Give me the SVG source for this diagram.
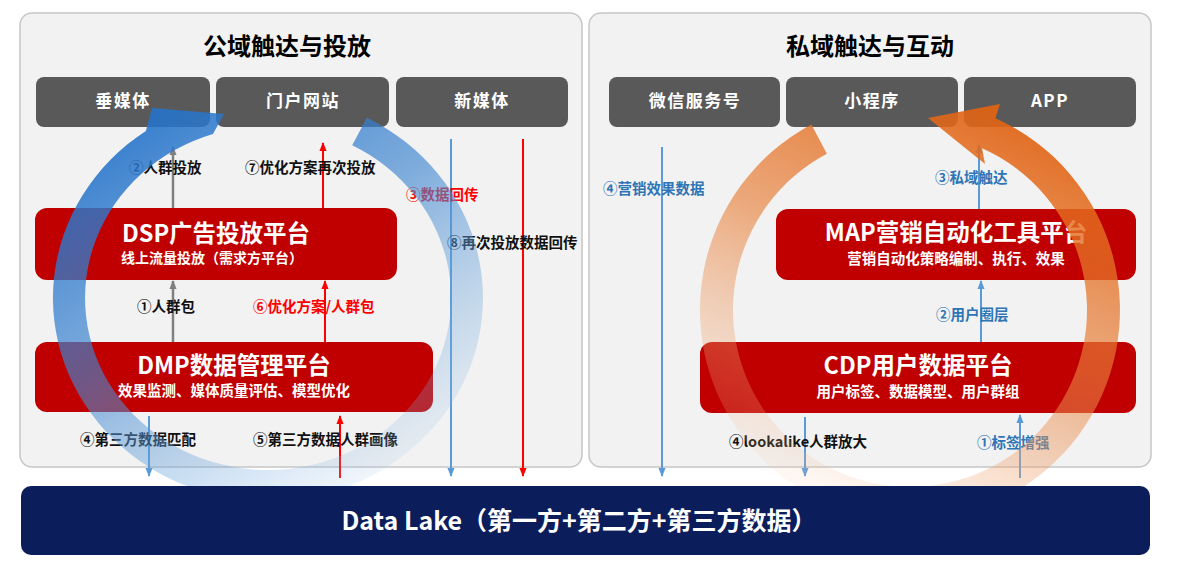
<svg xmlns="http://www.w3.org/2000/svg" width="1180" height="568" viewBox="0 0 1180 568">
<style>
text{font-family:'Noto Sans CJK SC','Noto Sans',sans-serif;font-weight:700}
.panel{fill:#f2f2f2;stroke:#c6c6c6;stroke-width:1.5}
.media rect{fill:#595959}
.media text{fill:#fff;font-size:17px;letter-spacing:1.5px;text-anchor:middle}
.plat rect{fill:#c00000}
.plat .t{fill:#fff;font-size:23.5px;text-anchor:middle}
.plat .s{fill:#fff;font-size:14.5px;text-anchor:middle}
.title{font-size:24px;fill:#000;text-anchor:middle}
.lbl{font-size:14.5px}
.k{fill:#111}
.r{fill:#ff0000}
.b{fill:#2e75b6}
.gray{stroke:#808080;stroke-width:2.5;marker-end:url(#ag)}
.red{stroke:#ff0000;stroke-width:2;marker-end:url(#ar)}
.blue{stroke:#5b9bd5;stroke-width:2;marker-end:url(#ab)}
</style>
<defs>
<marker id="ab" viewBox="0 0 10 10" refX="9" refY="5" markerWidth="9" markerHeight="9" markerUnits="userSpaceOnUse" orient="auto"><path d="M0,1 L10,5 L0,9 z" fill="#5b9bd5"/></marker>
<marker id="ar" viewBox="0 0 10 10" refX="9" refY="5" markerWidth="9" markerHeight="9" markerUnits="userSpaceOnUse" orient="auto"><path d="M0,1 L10,5 L0,9 z" fill="#ff0000"/></marker>
<marker id="ag" viewBox="0 0 10 10" refX="9" refY="5" markerWidth="9" markerHeight="9" markerUnits="userSpaceOnUse" orient="auto"><path d="M0,1 L10,5 L0,9 z" fill="#808080"/></marker>
<linearGradient id="gBlue" gradientUnits="userSpaceOnUse" x1="120" y1="90" x2="380" y2="510">
<stop offset="0" stop-color="#1f6fc9" stop-opacity="0.95"/>
<stop offset="0.45" stop-color="#3f86d0" stop-opacity="0.65"/>
<stop offset="0.8" stop-color="#7aaee0" stop-opacity="0.3"/>
<stop offset="1" stop-color="#a8c8ea" stop-opacity="0.08"/>
</linearGradient>
<linearGradient id="gOrange" gradientUnits="userSpaceOnUse" x1="1010" y1="100" x2="820" y2="510">
<stop offset="0" stop-color="#e0600f" stop-opacity="0.95"/>
<stop offset="0.45" stop-color="#e8803a" stop-opacity="0.65"/>
<stop offset="0.8" stop-color="#f0a878" stop-opacity="0.3"/>
<stop offset="1" stop-color="#f5c8a8" stop-opacity="0.08"/>
</linearGradient>
</defs>
<rect width="1180" height="568" fill="#ffffff"/>

<g id="panel-public">
<rect class="panel" x="20" y="13" width="562" height="454" rx="12"/>
<text class="title" x="287" y="55">公域触达与投放</text>
</g>
<g id="panel-private">
<rect class="panel" x="589" y="13" width="562" height="454" rx="12"/>
<text class="title" x="870" y="55">私域触达与互动</text>
</g>

<g id="node-chuimeiti" class="media"><rect x="36" y="77" width="174" height="50" rx="8"/><text x="123" y="107">垂媒体</text></g>
<g id="node-menhu" class="media"><rect x="216" y="77" width="173" height="50" rx="8"/><text x="303" y="107">门户网站</text></g>
<g id="node-xinmeiti" class="media"><rect x="396" y="77" width="172" height="50" rx="8"/><text x="482" y="107">新媒体</text></g>
<g id="node-weixin" class="media"><rect x="609" y="77" width="171" height="50" rx="8"/><text x="695" y="107">微信服务号</text></g>
<g id="node-xiaochengxu" class="media"><rect x="786" y="77" width="172" height="50" rx="8"/><text x="872" y="107">小程序</text></g>
<g id="node-app" class="media"><rect x="964" y="77" width="172" height="50" rx="8"/><text x="1050" y="107">APP</text></g>

<g id="node-dsp" class="plat"><rect x="35" y="208" width="362" height="72" rx="12"/><text class="t" x="216" y="242">DSP广告投放平台</text><text class="s" x="212" y="263" style="font-size:14px">线上流量投放（需求方平台）</text></g>
<g id="node-dmp" class="plat"><rect x="35" y="342" width="398" height="70" rx="12"/><text class="t" x="234" y="374">DMP数据管理平台</text><text class="s" x="234" y="396">效果监测、媒体质量评估、模型优化</text></g>
<g id="node-map" class="plat"><rect x="776" y="209" width="360" height="71" rx="12"/><text class="t" x="956" y="241">MAP营销自动化工具平台</text><text class="s" x="956" y="264">营销自动化策略编制、执行、效果</text></g>
<g id="node-cdp" class="plat"><rect x="700" y="342" width="436" height="71" rx="12"/><text class="t" x="918" y="374">CDP用户数据平台</text><text class="s" x="918" y="397">用户标签、数据模型、用户群组</text></g>

<g id="connectors">
<line class="gray" x1="173" y1="342" x2="173" y2="281"/>
<line class="gray" x1="173" y1="208" x2="173" y2="147"/>
<line class="red" x1="323" y1="208" x2="323" y2="143"/>
<line class="red" x1="325" y1="342" x2="325" y2="281"/>
<line class="red" x1="340" y1="478" x2="340" y2="416"/>
<line class="red" x1="523" y1="139" x2="523" y2="476"/>
<line class="blue" x1="149" y1="416" x2="149" y2="476"/>
<line class="blue" x1="451" y1="139" x2="451" y2="476"/>
<line class="blue" x1="662" y1="147" x2="662" y2="476"/>
<line class="blue" x1="979" y1="209" x2="979" y2="145"/>
<line class="blue" x1="981" y1="342" x2="981" y2="281"/>
<line class="blue" x1="805" y1="417" x2="805" y2="476"/>
<line class="blue" x1="1020" y1="478" x2="1020" y2="415"/>
<text class="lbl k" x="129" y="173">②人群投放</text>
<text class="lbl k" x="245" y="173">⑦优化方案再次投放</text>
<text class="lbl r" x="406" y="200">③数据回传</text>
<text class="lbl k" x="447" y="248">⑧再次投放数据回传</text>
<text class="lbl k" x="137" y="312">①人群包</text>
<text class="lbl r" x="253" y="312">⑥优化方案/人群包</text>
<text class="lbl k" x="80" y="445">④第三方数据匹配</text>
<text class="lbl k" x="253" y="445">⑤第三方数据人群画像</text>
<text class="lbl b" x="603" y="194">④营销效果数据</text>
<text class="lbl b" x="935" y="183">③私域触达</text>
<text class="lbl b" x="936" y="320">②用户圈层</text>
<text class="lbl k" x="729" y="447">④lookalike人群放大</text>
<text class="lbl b" x="977" y="448">①标签增强</text>
</g>

<g id="cycle-arrows">
<path d="M366.9,117.8 A215,203 0 1 1 145.9,130.9 L152,108 L224,114 L213,134 A183,172 0 1 0 352.2,145.3 Z" fill="url(#gBlue)"/>
<path d="M811.4,124.6 A210,210 0 1 0 995.4,118.2 L1000,104 L928,118 L985,164 L982,148.3 A177,177 0 1 1 826.9,153.7 Z" fill="url(#gOrange)"/>
</g>

<g id="node-datalake">
<rect x="21" y="486" width="1129" height="69" rx="10" fill="#0b1e5b"/>
<text x="579" y="530" fill="#fff" font-size="25" text-anchor="middle">Data Lake（第一方+第二方+第三方数据）</text>
</g>
</svg>
